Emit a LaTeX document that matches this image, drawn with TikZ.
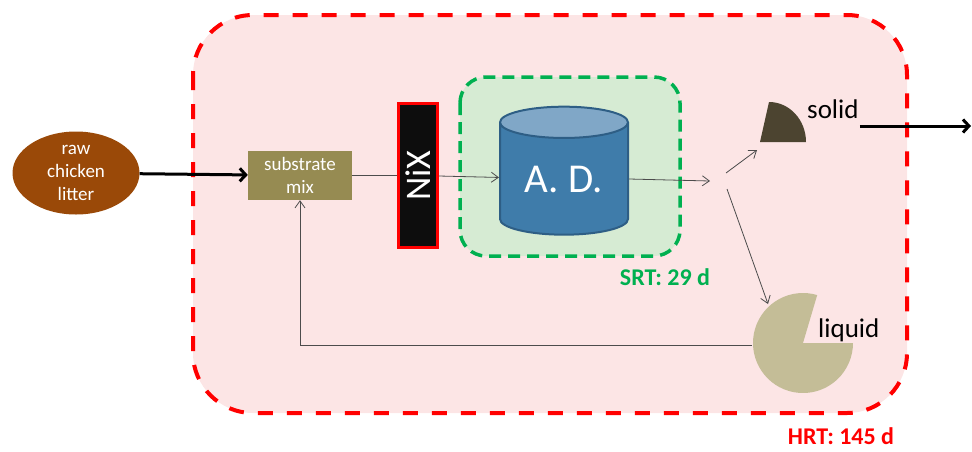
\documentclass[tikz,border=0pt]{standalone}
\usepackage{fontspec}
\setmainfont{Carlito}
\usetikzlibrary{arrows.meta, positioning, shapes.geometric}
\definecolor{hrtred}{HTML}{FF0000}
\definecolor{hrtfill}{HTML}{FCE5E5}
\definecolor{srtgreen}{HTML}{00B050}
\definecolor{srtfill}{HTML}{D6EBD3}
\definecolor{litter}{HTML}{9A4908}
\definecolor{mixolive}{HTML}{968B52}
\definecolor{adblue}{HTML}{3F7CAA}
\definecolor{adtop}{HTML}{80A7C7}
\definecolor{adborder}{HTML}{2E5E85}
\definecolor{solidc}{HTML}{4C4430}
\definecolor{liquidc}{HTML}{C4BD97}

\begin{document}
\begin{tikzpicture}[x=1pt, y=-1pt,
  font=\fontsize{19}{23}\selectfont,
  frame/.style={line width=4pt, dash pattern=on 15pt off 14pt, rounded corners=60pt},
  feed/.style={ellipse, fill=litter, text=white, minimum width=127pt,
    minimum height=83pt, inner sep=0pt, align=center},
  mixbox/.style={rectangle, fill=mixolive, text=white, minimum width=104pt,
    minimum height=49pt, inner sep=0pt, align=center},
  nixbox/.style={rectangle, fill=black!95, draw=hrtred, line width=3pt,
    minimum width=39pt, minimum height=144pt, inner sep=0pt},
  reactor/.style={cylinder, shape border rotate=90, aspect=0.4,
    cylinder uses custom fill, cylinder body fill=adblue, cylinder end fill=adtop,
    draw=adborder, line width=2pt, minimum width=128pt, minimum height=128pt,
    text=white, font=\fontsize{41}{48}\selectfont, inner sep=0pt},
  tag/.style={font=\fontsize{24}{28}\selectfont\bfseries, inner sep=0pt},
  phase/.style={font=\fontsize{27}{32}\selectfont, inner sep=0pt, anchor=base west},
  flow/.style={-{Straight Barb[length=7pt, width=10pt]}, black!70, line width=0.8pt},
  plain/.style={black!70, line width=0.8pt},
  bigflow/.style={-{Straight Barb[length=6pt, width=13pt]}, black, line width=3pt},
]
\useasboundingbox (0,0) rectangle (972,451);

% Rahmen HRT / SRT
\draw[frame, draw=hrtred, fill=hrtfill] (193,15) rectangle (907,413);
\draw[frame, draw=srtgreen, fill=srtfill, rounded corners=26pt, line width=3.5pt,
  dash pattern=on 12pt off 7pt] (460,77) rectangle (680,256);
\node[tag, text=srtgreen] (srt) at (665,277) {SRT: 29 d};
\node[tag, text=hrtred] (hrt) at (841,436) {HRT: 145 d};

% Zulauf und Mischung
\node[feed] (feed) at (76,173) {raw\\chicken\\litter};
\node[mixbox] (mix) at (300,175.5) {substrate\\mix};
\node[nixbox] (nix) at (418,175.5) {};
\node[rotate=90, text=white, font=\fontsize{36}{40}\selectfont, inner sep=0pt] (nixtxt) at (nix.center) {NiX};

% Reaktor
\node[reactor] (ad) at (564,179) {A. D.};
\coordinate (split) at (718,181);

% Produkte
\fill[solidc] (760,142) -- (769,102) arc[start angle=-90, end angle=0, x radius=37, y radius=40] -- cycle;
\coordinate (solidin) at (757,150);
\node[phase] (soltxt) at (807,118) {solid};
\coordinate (exit) at (971,126);

\fill[liquidc] (803,343) -- ++(-73.5:50) arc[start angle=-73.5, end angle=-360, radius=50] -- cycle;
\node[circle, minimum size=100pt, inner sep=0pt] (liquid) at (802,345) {};
\coordinate (liqin) at (768,304);
\node[phase] (liqtxt) at (818,337) {liquid};

% Verbindungen
\draw[bigflow] (feed) -- (mix);
\draw[plain] (mix) -- (nix);
\draw[flow] (nix) -- (ad);
\draw[flow] (ad.east) -- ([xshift=-8pt]split);
\draw[flow] ([shift={(8,-8)}]split) -- (solidin);
\draw[flow] ([shift={(9,8)}]split) -- (liqin);
\draw[flow] (liquid.west) -| (mix.south);
\draw[bigflow] ([shift={(1,8)}]soltxt.base east) -- (exit);

\end{tikzpicture}
\end{document}
